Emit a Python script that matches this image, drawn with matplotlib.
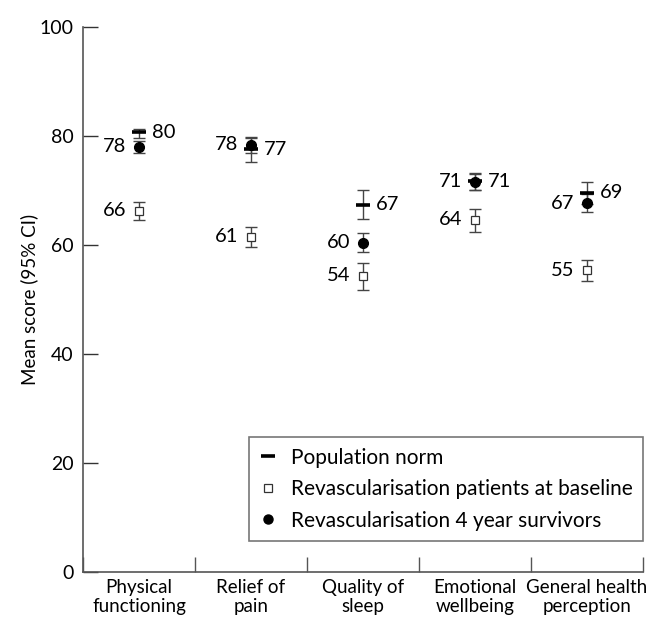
import matplotlib
matplotlib.use('Agg')
import matplotlib.pyplot as plt
from matplotlib.lines import Line2D
import numpy as np

plt.rcParams['font.family'] = ['Lato', 'DejaVu Sans']

categories = ['Physical\nfunctioning', 'Relief of\npain', 'Quality of\nsleep',
              'Emotional\nwellbeing', 'General health\nperception']

# population norm
norm = [80.7, 77.6, 67.4, 71.7, 69.6]
norm_lo = [79.6, 75.3, 64.8, 70.0, 67.6]
norm_hi = [81.2, 79.8, 70.0, 73.2, 71.6]
norm_lbl = [80, 77, 67, 71, 69]

# revascularisation patients at baseline
base = [66.3, 61.5, 54.4, 64.6, 55.4]
base_lo = [64.6, 59.6, 51.7, 62.4, 53.4]
base_hi = [67.9, 63.3, 56.7, 66.6, 57.2]
base_lbl = [66, 61, 54, 64, 55]

# revascularisation 4 year survivors
surv = [78.0, 78.4, 60.4, 71.6, 67.7]
surv_lo = [76.9, 76.8, 58.7, 70.0, 66.1]
surv_hi = [79.1, 79.6, 62.2, 73.0, 69.3]
surv_lbl = [78, 78, 60, 71, 67]

ecol = '#444444'


def err(v, lo, hi):
    v = np.array(v)
    return [v - np.array(lo), np.array(hi) - v]


fig = plt.figure(figsize=(6.47, 6.19), dpi=100)
ax = fig.add_axes([0.1283, 0.0759, 0.8655, 0.8805])

x = np.arange(len(categories)) + 0.5

# error bars first, markers on top
for v, lo, hi in [(base, base_lo, base_hi), (norm, norm_lo, norm_hi),
                  (surv, surv_lo, surv_hi)]:
    ax.errorbar(x, v, yerr=err(v, lo, hi), fmt='none', ecolor=ecol,
                elinewidth=1, capsize=4, capthick=1, zorder=2)

ax.plot(x, base, ls='none', marker='s', ms=6, mfc='white', mec='#333333',
        mew=0.9, zorder=3)
ax.plot(x, norm, ls='none', marker='_', ms=10, mew=2.6, color='black',
        zorder=4)
ax.plot(x, surv, ls='none', marker='o', ms=7, color='black', zorder=5)

for xi, v, t in zip(x, norm, norm_lbl):
    ax.annotate(str(t), (xi, v), xytext=(9, 0), textcoords='offset points',
                ha='left', va='center', fontsize=14.5)
for xi, v, t in zip(x, base, base_lbl):
    ax.annotate(str(t), (xi, v), xytext=(-9, 0), textcoords='offset points',
                ha='right', va='center', fontsize=14.5)
for xi, v, t in zip(x, surv, surv_lbl):
    ax.annotate(str(t), (xi, v), xytext=(-9, 0), textcoords='offset points',
                ha='right', va='center', fontsize=14.5)

ax.set_xlim(0, 5)
ax.set_ylim(0, 100)
ax.set_yticks(range(0, 101, 20))
ax.tick_params(axis='y', direction='in', length=11, width=1, color='#333333',
               labelsize=14, pad=7)
ax.set_xticks(x)
ax.set_xticklabels(categories, fontsize=13.5, linespacing=1.15)
ax.tick_params(axis='x', which='major', length=0, pad=5)
ax.set_xticks(np.arange(0, 6), minor=True)
ax.tick_params(axis='x', which='minor', direction='in', length=11,
               width=1, color='#555555')
ax.set_ylabel('Mean score (95% CI)', fontsize=13.5)
ax.yaxis.set_label_coords(-0.080, 0.5)

for s in ['top', 'right']:
    ax.spines[s].set_visible(False)
for s in ['left', 'bottom']:
    ax.spines[s].set_color('#555555')
    ax.spines[s].set_linewidth(1.2)

handles = [
    Line2D([], [], ls='none', marker='_', ms=10, mew=2.6, color='black'),
    Line2D([], [], ls='none', marker='s', ms=5.5, mfc='white', mec='#333333',
           mew=0.9),
    Line2D([], [], ls='none', marker='o', ms=6.5, color='black'),
]
labels = ['Population norm', 'Revascularisation patients at baseline',
          'Revascularisation 4 year survivors']
leg = ax.legend(handles, labels, loc='lower right',
                bbox_to_anchor=(1.0, 0.057), fontsize=15, frameon=True,
                fancybox=False, edgecolor='#555555', handlelength=0.8,
                handletextpad=0.7, borderpad=0.5, labelspacing=0.55,
                borderaxespad=0)
leg.get_frame().set_linewidth(1.2)

fig.savefig('out.png', dpi=100)
